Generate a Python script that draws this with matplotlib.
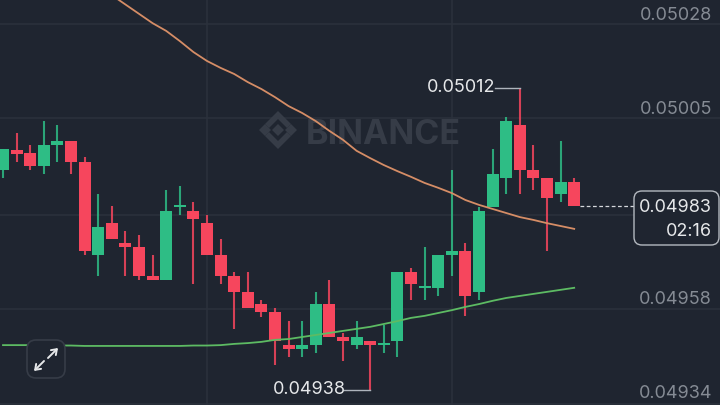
import matplotlib
matplotlib.use('Agg')
import matplotlib.pyplot as plt
from matplotlib.patches import FancyBboxPatch, Polygon
from matplotlib.transforms import Affine2D

opens = [0.049922, 0.049972, 0.049964, 0.049932, 0.049983, 0.049993, 0.049941, 0.049713, 0.049791, 0.049742, 0.049732,
         0.049661, 0.049651, 0.049832, 0.049821, 0.049791, 0.049713, 0.049661, 0.049622, 0.049592, 0.049572, 0.049491,
         0.049481, 0.049491, 0.049592, 0.049511, 0.049491, 0.049501, 0.049491, 0.049501, 0.049671, 0.049632, 0.049632,
         0.049713, 0.049723, 0.049622, 0.049831, 0.049902, 0.050032, 0.049922, 0.049902, 0.049863, 0.049892]
closes = [0.049973, 0.049961, 0.049932, 0.049983, 0.049993, 0.049941, 0.049723, 0.049782, 0.049752, 0.049732, 0.049661,
          0.049651, 0.049821, 0.049836, 0.049801, 0.049713, 0.049661, 0.049622, 0.049582, 0.049572, 0.049501, 0.049481,
          0.049491, 0.049592, 0.049511, 0.049501, 0.049511, 0.049491, 0.049495, 0.049671, 0.049641, 0.049636, 0.049713,
          0.049723, 0.049612, 0.049821, 0.049912, 0.050042, 0.049922, 0.049902, 0.049853, 0.049892, 0.049833]
highs = [0.049973, 0.050013, 0.049983, 0.050042, 0.050032, 0.049993, 0.049954, 0.049863, 0.049833, 0.049772, 0.049762,
         0.049713, 0.049873, 0.049882, 0.049843, 0.049811, 0.049752, 0.049671, 0.049671, 0.049602, 0.049582, 0.049550,
         0.049550, 0.049622, 0.049651, 0.049521, 0.049550, 0.049501, 0.049540, 0.049671, 0.049681, 0.049732, 0.049713,
         0.049922, 0.049742, 0.049831, 0.049973, 0.050052, 0.050124, 0.049983, 0.049902, 0.049993, 0.049902]
lows = [0.049902, 0.049941, 0.049922, 0.049912, 0.049941, 0.049912, 0.049713, 0.049661, 0.049752, 0.049661, 0.049651,
        0.049651, 0.049651, 0.049811, 0.049641, 0.049713, 0.049641, 0.049531, 0.049582, 0.049560, 0.049442, 0.049462,
        0.049462, 0.049472, 0.049511, 0.049452, 0.049481, 0.049381, 0.049472, 0.049462, 0.049602, 0.049602, 0.049612,
        0.049661, 0.049563, 0.049602, 0.049831, 0.049863, 0.049863, 0.049873, 0.049723, 0.049843, 0.049833]

# orange average starts off the top of the chart, at candle 8
ma_fast = [0.050352, 0.050329, 0.050306, 0.050283, 0.050264, 0.050239, 0.050212, 0.050190, 0.050173, 0.050158, 0.050138,
           0.050121, 0.050101, 0.050079, 0.050062, 0.050042, 0.050018, 0.049996, 0.049969, 0.049951, 0.049934, 0.049919,
           0.049905, 0.049890, 0.049878, 0.049865, 0.049848, 0.049836, 0.049826, 0.049816, 0.049806, 0.049799, 0.049791,
           0.049784, 0.049777]
ma_slow = [0.049491, 0.049491, 0.049491, 0.049490, 0.049490, 0.049490, 0.049489, 0.049489, 0.049489, 0.049489, 0.049489,
           0.049489, 0.049489, 0.049489, 0.049490, 0.049490, 0.049491, 0.049494, 0.049496, 0.049499, 0.049504, 0.049506,
           0.049511, 0.049516, 0.049521, 0.049526, 0.049531, 0.049536, 0.049543, 0.049550, 0.049558, 0.049563, 0.049570,
           0.049577, 0.049585, 0.049592, 0.049600, 0.049607, 0.049612, 0.049617, 0.049622, 0.049627, 0.049632]

grid_prices = [0.05028, 0.05005, 0.04981, 0.04958, 0.049345]
grid_candles = [15, 33]
price_labels = ['0.05028', '0.05005', '0.04958', '0.04934']
last_price = 0.049833
last_label = '0.04983'
countdown = '02:16'
high_label = '0.05012'
low_label = '0.04938'
high_idx = 38
low_idx = 27

BG = '#1f2530'
GRID = '#2b313c'
GREEN = '#2ebd85'
RED = '#f6465d'
TEXT = '#e6e8ea'
plt.rcParams['font.family'] = ['Inter', 'DejaVu Sans']

fig = plt.figure(figsize=(7.2, 4.05), dpi=100, facecolor=BG)
ax = fig.add_axes([0, 0, 1, 1], facecolor=BG)
ax.set_xlim(-3 / 13.6, 717 / 13.6)
ax.set_ylim(0.05034 - 405 * 2.46e-6, 0.05034)
ax.axis('off')

# pixel coordinates of the picture, y going down
px = Affine2D().scale(1, -1).translate(0, 405)

for p in grid_prices:
    ax.axhline(p, color=GRID, lw=1.2, zorder=1)
for c in grid_candles:
    ax.axvline(c, color=GRID, lw=1.2, zorder=1)

# watermark
wm = '#363c47'
logo = [
    [(278, 124), (284, 130), (278, 136), (272, 130)],
    [(265, 124), (271, 130), (265, 136), (259, 130)],
    [(291, 124), (297, 130), (291, 136), (285, 130)],
    [(278, 111), (291, 124), (287, 128), (278, 119), (269, 128), (265, 124)],
    [(278, 149), (291, 136), (287, 132), (278, 141), (269, 132), (265, 136)],
]
for pts in logo:
    ax.add_patch(Polygon(pts, closed=True, fc=wm, ec='none', transform=px, zorder=1.5))
ax.text(306, 131, 'BINANCE', color=wm, fontsize=24.5, fontweight='bold', ha='left', va='center_baseline',
        transform=px, zorder=1.5)

for i in range(len(opens)):
    col = GREEN if closes[i] >= opens[i] else RED
    ax.vlines(i, lows[i], highs[i], color=col, lw=1.5, alpha=0.85, zorder=2)
    bottom = min(opens[i], closes[i])
    height = abs(closes[i] - opens[i])
    ax.bar(i, height, bottom=bottom, width=0.88, color=col, edgecolor='none', zorder=3)

ax.plot(range(8, 43), ma_fast, color='#d58d66', lw=1.3, zorder=4)
ax.plot(range(43), ma_slow, color='#5dbb63', lw=1.3, zorder=4)

# axis labels sit just above their grid line, the last one is pushed up from the edge
for lab, y in zip(price_labels, [15, 110, 300, 394]):
    ax.text(712, y, lab, color='#858b94', fontsize=13, ha='right', va='center', transform=px, zorder=6)

# high and low markers
ax.plot([high_idx - 1.83, high_idx], [highs[high_idx], highs[high_idx]], color='#aeb4bc', lw=1, zorder=4)
ax.annotate(high_label, xy=(high_idx - 1.83, highs[high_idx]), xytext=(0, 0), textcoords='offset pixels',
            color=TEXT, fontsize=13, ha='right', va='center', zorder=6)
ax.plot([low_idx - 1.9, low_idx], [lows[low_idx], lows[low_idx]], color='#aeb4bc', lw=1, zorder=4)
ax.annotate(low_label, xy=(low_idx - 1.9, lows[low_idx]), xytext=(2, 0), textcoords='offset pixels',
            color=TEXT, fontsize=13, ha='right', va='center', zorder=6)

# last price line and box
ax.plot([42.4, 46.4], [last_price, last_price], color='#d5d8dc', lw=0.9, ls=(0, (3, 2)), zorder=4)
ax.add_patch(FancyBboxPatch((642, 199), 69, 38, boxstyle='round,pad=8,rounding_size=8', fc=BG, ec='#b4b9c0', lw=1,
                            transform=px, zorder=5))
ax.text(712, 207, last_label, color=TEXT, fontsize=13, ha='right', va='center', transform=px, zorder=6)
ax.text(712, 231, countdown, color=TEXT, fontsize=13, ha='right', va='center', transform=px, zorder=6)

# expand button
ax.add_patch(FancyBboxPatch((36, 349), 20, 20, boxstyle='round,pad=9,rounding_size=9', fc=BG, ec='#363c47', lw=1.2,
                            transform=px, zorder=5))
ax.annotate('', xy=(58, 348), xytext=(48, 358), xycoords=px, textcoords=px, zorder=6,
            arrowprops=dict(arrowstyle='->,head_length=0.35,head_width=0.25', color='#e6e8ea', lw=1.4,
                            shrinkA=0, shrinkB=0))
ax.annotate('', xy=(34, 371), xytext=(44, 361), xycoords=px, textcoords=px, zorder=6,
            arrowprops=dict(arrowstyle='->,head_length=0.35,head_width=0.25', color='#e6e8ea', lw=1.4,
                            shrinkA=0, shrinkB=0))

fig.savefig('out.png', dpi=100, facecolor=BG)
